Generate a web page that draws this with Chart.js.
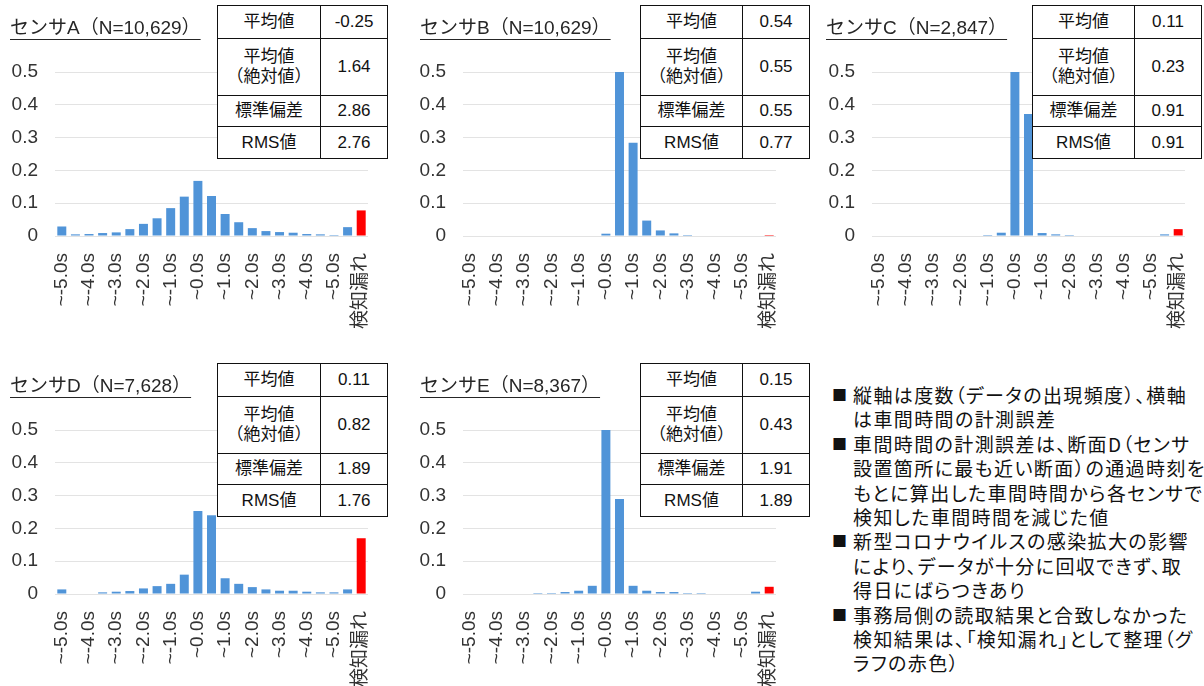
<!DOCTYPE html>
<html lang="ja">
<head>
<meta charset="utf-8">
<title>センサ別 車間時間の計測誤差</title>
<script src="https://cdn.jsdelivr.net/npm/chart.js@4.4.1/dist/chart.umd.min.js"></script>
<style>
  html, body { margin: 0; padding: 0; background: #fff; }
  body {
    width: 1204px; height: 686px; position: relative; overflow: hidden;
    font-family: "Liberation Sans", "Noto Sans CJK JP", sans-serif; color: #000;
  }
  .panel { position: absolute; width: 405px; height: 340px; }
  .panel canvas { position: absolute; left: 0; top: 0; }
  .title {
    position: absolute; font-size: 19px; line-height: 24px; white-space: nowrap;
    text-decoration: underline; text-decoration-thickness: 1px; text-underline-offset: 5px;
    color: #262626;
  }
  table.stats {
    position: absolute; border-collapse: collapse; background: #fff;
    font-size: 17px; table-layout: fixed;
  }
  table.stats td {
    border: 1.5px solid #111; text-align: center; padding: 0; line-height: 20px;
    white-space: pre-line; color: #111;
  }
  .notes {
    position: absolute; left: 832px; top: 383px; font-size: 19px; line-height: 24.4px;
    font-family: "Noto Sans CJK JP", sans-serif; color: #111; white-space: nowrap;
    font-feature-settings: "palt"; letter-spacing: 1.4px;
  }
  .notes .item { display: flex; }
  .notes .mark { width: 21px; flex: none; font-size: 15px; letter-spacing: 0; }
</style>
</head>
<body>
<script>
// 階級（0.5秒刻み、両端は範囲外をまとめた階級）と検知漏れ
const categories = [
  "~-5.0s","~-4.5s","~-4.0s","~-3.5s","~-3.0s","~-2.5s","~-2.0s","~-1.5s","~-1.0s","~-0.5s",
  "~0.0s","~0.5s","~1.0s","~1.5s","~2.0s","~2.5s","~3.0s","~3.5s","~4.0s","~4.5s","~5.0s",
  "5.0s~","検知漏れ"
];
const yTicks = [0, 0.1, 0.2, 0.3, 0.4, 0.5];

// 各センサの度数（相対度数）
const sensorA = [0.029,0.005,0.006,0.009,0.011,0.021,0.037,0.054,0.085,0.120,0.168,0.122,0.067,0.042,0.024,0.015,0.012,0.010,0.006,0.005,0.003,0.027,0.078];
const sensorB = [0,0,0,0,0,0,0,0,0,0,0.007,0.630,0.284,0.047,0.017,0.008,0.003,0,0,0,0,0,0.003];
const sensorC = [0,0,0,0,0,0,0,0,0.003,0.010,0.570,0.372,0.009,0.005,0.003,0,0,0,0,0,0,0.005,0.021];
const sensorD = [0.014,0,0,0.005,0.007,0.009,0.017,0.024,0.031,0.059,0.253,0.240,0.048,0.031,0.021,0.014,0.010,0.010,0.007,0.005,0.005,0.014,0.170];
const sensorE = [0,0,0,0,0,0.003,0.003,0.006,0.010,0.025,0.580,0.290,0.025,0.010,0.006,0.006,0.003,0.003,0,0,0,0.007,0.022];

// 統計量
const statLabels = ["平均値", "平均値\n（絶対値）", "標準偏差", "RMS値"];
const statsA = ["-0.25", "1.64", "2.86", "2.76"];
const statsB = ["0.54", "0.55", "0.55", "0.77"];
const statsC = ["0.11", "0.23", "0.91", "0.91"];
const statsD = ["0.11", "0.82", "1.89", "1.76"];
const statsE = ["0.15", "0.43", "1.91", "1.89"];

const sensorNames = ["A", "B", "C", "D", "E"];
const sampleCounts = ["10,629", "10,629", "2,847", "7,628", "8,367"];

const notes = [
  ["縦軸は度数（データの出現頻度）、横軸", "は車間時間の計測誤差"],
  ["車間時間の計測誤差は、断面D（センサ", "設置箇所に最も近い断面）の通過時刻を", "もとに算出した車間時間から各センサで", "検知した車間時間を減じた値"],
  ["新型コロナウイルスの感染拡大の影響", "により、データが十分に回収できず、取", "得日にばらつきあり"],
  ["事務局側の読取結果と合致しなかった", "検知結果は、「検知漏れ」として整理（グ", "ラフの赤色）"]
];

const BLUE = "#5094d8";
const RED = "#ff0000";

// パネル配置
const layouts = [
  { left: 0,   top: 0,   titleX: 10,  tableX: 217, tableCols: [103, 67] },
  { left: 408, top: 0,   titleX: 420, tableX: 640, tableCols: [102, 67] },
  { left: 817, top: 0,   titleX: 826, tableX: 1032, tableCols: [102, 67] },
  { left: 0,   top: 358, titleX: 10,  tableX: 217, tableCols: [103, 67] },
  { left: 408, top: 358, titleX: 420, tableX: 640, tableCols: [102, 67] }
];
const series = [sensorA, sensorB, sensorC, sensorD, sensorE];
const stats = [statsA, statsB, statsC, statsD, statsE];
const rowHeights = [33, 57, 31, 32];

const CANVAS_W = 405, CANVAS_H = 340;
const AREA_TOP = 72, AREA_BOTTOM = 236, AREA_LEFT = 55, AREA_RIGHT = 368;

series.forEach((values, k) => {
  const L = layouts[k];

  const panel = document.createElement("div");
  panel.className = "panel";
  panel.style.left = L.left + "px";
  panel.style.top = L.top + "px";
  const canvas = document.createElement("canvas");
  canvas.width = CANVAS_W; canvas.height = CANVAS_H;
  canvas.style.width = CANVAS_W + "px"; canvas.style.height = CANVAS_H + "px";
  panel.appendChild(canvas);
  document.body.appendChild(panel);

  const colors = values.map((v, i) => i === values.length - 1 ? RED : BLUE);

  new Chart(canvas, {
    type: "bar",
    data: {
      labels: categories,
      datasets: [{
        data: values,
        backgroundColor: colors,
        borderWidth: 0,
        barPercentage: 0.66,
        categoryPercentage: 1
      }]
    },
    options: {
      responsive: false,
      animation: false,
      events: [],
      layout: { padding: { top: AREA_TOP, right: CANVAS_W - AREA_RIGHT, left: 0, bottom: 0 } },
      plugins: { legend: { display: false }, tooltip: { enabled: false } },
      scales: {
        x: {
          grid: { display: false },
          border: { display: false },
          ticks: {
            autoSkip: false, minRotation: 90, maxRotation: 90, padding: 9,
            color: "#333", font: { family: "'Liberation Sans','Noto Sans CJK JP'", size: 19 },
            callback: (v, i) => (i % 2 === 0 ? categories[i] : "")
          },
          afterFit: s => { s.height = CANVAS_H - AREA_BOTTOM; }
        },
        y: {
          min: yTicks[0], max: yTicks[yTicks.length - 1],
          afterBuildTicks: s => { s.ticks = yTicks.map(v => ({ value: v })); },
          grid: { color: "#e3e3e3", lineWidth: 1, drawTicks: false },
          border: { display: false },
          ticks: {
            padding: 17, color: "#333",
            font: { family: "'Liberation Sans'", size: 19 },
            callback: v => String(v)
          },
          afterFit: s => { s.width = AREA_LEFT; }
        }
      }
    }
  });

  // タイトル
  const title = document.createElement("div");
  title.className = "title";
  title.style.left = L.titleX + "px";
  title.style.top = (L.top + 16) + "px";
  title.textContent = "センサ" + sensorNames[k] + "（N=" + sampleCounts[k] + "）";
  document.body.appendChild(title);

  // 統計量の表
  const table = document.createElement("table");
  table.className = "stats";
  table.style.left = L.tableX + "px";
  table.style.top = (L.top + 5) + "px";
  table.style.width = (L.tableCols[0] + L.tableCols[1]) + "px";
  const cg = document.createElement("colgroup");
  L.tableCols.forEach(w => { const c = document.createElement("col"); c.style.width = w + "px"; cg.appendChild(c); });
  table.appendChild(cg);
  statLabels.forEach((lab, r) => {
    const tr = document.createElement("tr");
    tr.style.height = rowHeights[r] + "px";
    const td1 = document.createElement("td"); td1.textContent = lab;
    const td2 = document.createElement("td"); td2.textContent = stats[k][r];
    tr.appendChild(td1); tr.appendChild(td2);
    table.appendChild(tr);
  });
  document.body.appendChild(table);
});

// 注記
const box = document.createElement("div");
box.className = "notes";
notes.forEach(lines => {
  const item = document.createElement("div");
  item.className = "item";
  const mark = document.createElement("span");
  mark.className = "mark"; mark.textContent = "■";
  const text = document.createElement("div");
  lines.forEach(ln => {
    const d = document.createElement("div"); d.textContent = ln; text.appendChild(d);
  });
  item.appendChild(mark); item.appendChild(text);
  box.appendChild(item);
});
document.body.appendChild(box);
</script>
</body>
</html>
